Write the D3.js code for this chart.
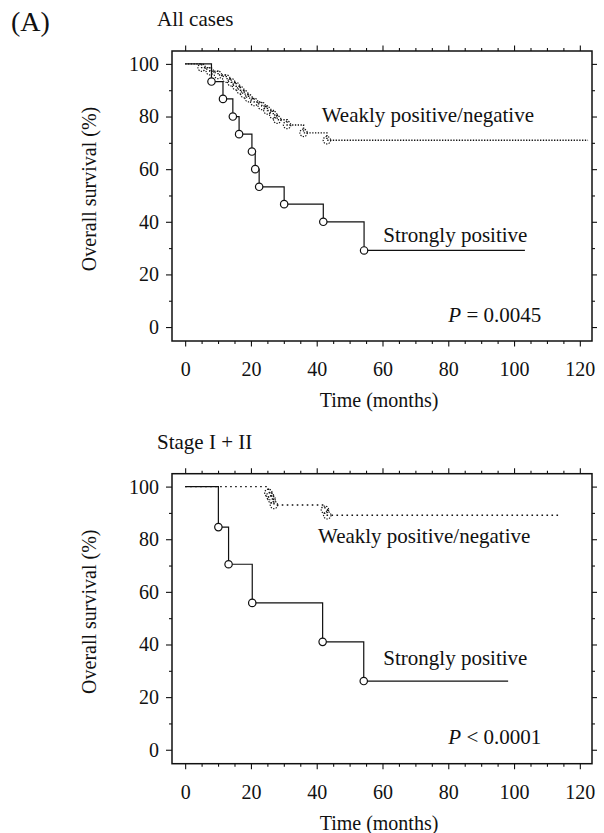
<!DOCTYPE html>
<html>
<head>
<meta charset="utf-8">
<script src="https://cdn.jsdelivr.net/npm/d3@7"></script>
<style>
  body { margin: 0; background: #fff; }
  text { font-family: "Liberation Serif", "Times New Roman", serif; fill: #111; }
</style>
</head>
<body>
<svg id="chart" width="604" height="833"></svg>
<script>
// tick values
const xMajor = [0, 20, 40, 60, 80, 100, 120]
const yMajor = [0, 20, 40, 60, 80, 100]

// All cases - strongly positive (months, % surviving)
const allStrongTime = [8, 11.5, 14.5, 16.4, 20.3, 21.3, 22.5, 30.1, 42, 54.4]
const allStrongSurv = [93.3, 86.7, 80, 73.3, 66.7, 60, 53.3, 46.7, 40, 29.1]
const allStrongEnd = 103.3
// All cases - weakly positive/negative
const allWeakTime = [5, 7.5, 10, 12.5, 14, 15.5, 16.8, 18, 19.3, 21, 23.3, 25, 26.8, 28, 31, 36, 43.1]
const allWeakSurv = [98.6, 97.2, 95.8, 94.4, 93, 91.5, 90, 88.5, 87, 85.5, 84, 82.3, 80.6, 78.8, 76.8, 73.8, 71]
const allWeakEnd = 122.5

// Stage I + II - strongly positive
const stageStrongTime = [10.1, 13.2, 20.4, 41.8, 54.3]
const stageStrongSurv = [84.6, 70.5, 55.8, 41, 26.1]
const stageStrongEnd = 98.2
// Stage I + II - weakly positive/negative
const stageWeakTime = [25.3, 25.8, 26.3, 27, 42.5, 43.2]
const stageWeakSurv = [97.6, 96.4, 95.2, 93, 91.2, 89.1]
const stageWeakEnd = 114.3

const panels = [
  {title: 'All cases', dy: 0, op: '=', p: '0.0045',
   strong: {t: allStrongTime, s: allStrongSurv, end: allStrongEnd},
   weak: {t: allWeakTime, s: allWeakSurv, end: allWeakEnd, dash: '1.3,1.5'},
   weakLabel: [321.7, 121.7], strongLabel: [383.3, 241.7]},
  {title: 'Stage I + II', dy: 422.7, op: '<', p: '0.0001',
   strong: {t: stageStrongTime, s: stageStrongSurv, end: stageStrongEnd},
   weak: {t: stageWeakTime, s: stageWeakSurv, end: stageWeakEnd, dash: '1.6,3.4'},
   weakLabel: [318, 543.3 - 422.7], strongLabel: [383.3, 665 - 422.7]}
]

const svg = d3.select('#chart')

svg.append('text').attr('x', 11).attr('y', 31).style('font-size', '28px').text('(A)')

const x = d3.scaleLinear().domain([-4, 123.7]).range([172, 592])
const y = d3.scaleLinear().domain([-5.3, 104.9]).range([341, 51])

const stepLine = d3.line().x(d => x(d[0])).y(d => y(d[1])).curve(d3.curveStepAfter)

const styleAxis = (g, fs) => {
  g.select('.domain').remove()
  g.selectAll('line').attr('stroke', '#111').attr('stroke-width', 1.1)
  g.selectAll('text').style('font-size', fs).attr('fill', '#111')
}

panels.forEach(p => {
  const g = svg.append('g').attr('transform', `translate(0,${p.dy})`)

  g.append('text').attr('x', 157).attr('y', 26).style('font-size', '21px').text(p.title)

  // minor + major ticks, all four sides
  const xMinor = d3.range(0, 121, 5).filter(v => v % 20 !== 0)
  const yMinor = d3.range(0, 101, 10).filter(v => v % 20 !== 0)
  const [y0, y1] = y.range()
  const [x0, x1] = x.range()

  g.append('g').attr('transform', `translate(0,${y0})`)
    .call(d3.axisBottom(x).tickValues(xMinor).tickSize(3).tickFormat(''))
    .call(a => styleAxis(a, '20px'))
  g.append('g').attr('transform', `translate(0,${y0})`)
    .call(d3.axisBottom(x).tickValues(xMajor).tickSize(5.5).tickPadding(15.5).tickFormat(d3.format('d')))
    .call(a => styleAxis(a, '20px'))
  g.append('g').attr('transform', `translate(0,${y1})`)
    .call(d3.axisTop(x).tickValues(xMinor).tickSize(3).tickFormat(''))
    .call(a => styleAxis(a, '20px'))
  g.append('g').attr('transform', `translate(0,${y1})`)
    .call(d3.axisTop(x).tickValues(xMajor).tickSize(5.5).tickFormat(''))
    .call(a => styleAxis(a, '20px'))

  g.append('g').attr('transform', `translate(${x0},0)`)
    .call(d3.axisLeft(y).tickValues(yMinor).tickSize(3).tickFormat(''))
    .call(a => styleAxis(a, '20px'))
  g.append('g').attr('transform', `translate(${x0},0)`)
    .call(d3.axisLeft(y).tickValues(yMajor).tickSize(6).tickPadding(7).tickFormat(d3.format('d')))
    .call(a => styleAxis(a, '20px'))
  g.append('g').attr('transform', `translate(${x1},0)`)
    .call(d3.axisRight(y).tickValues(yMinor).tickSize(3).tickFormat(''))
    .call(a => styleAxis(a, '20px'))
  g.append('g').attr('transform', `translate(${x1},0)`)
    .call(d3.axisRight(y).tickValues(yMajor).tickSize(5).tickFormat(''))
    .call(a => styleAxis(a, '20px'))

  // frame
  g.append('rect').attr('x', x0).attr('y', y1).attr('width', x1 - x0).attr('height', y0 - y1)
    .attr('fill', 'none').attr('stroke', '#111').attr('stroke-width', 1.5)

  // axis titles
  g.append('text').attr('x', (x0 + x1) / 2 - 3).attr('y', 407).attr('text-anchor', 'middle')
    .style('font-size', '20px').text('Time (months)')
  g.append('text').attr('transform', `translate(96,${(y0 + y1) / 2 - 7}) rotate(-90)`)
    .attr('text-anchor', 'middle').style('font-size', '20px').text('Overall survival (%)')

  // curves
  const drawCurve = (c, dash) => {
    const pts = [[0, 100]].concat(c.t.map((t, i) => [t, c.s[i]]))
    pts.push([c.end, c.s[c.s.length - 1]])
    g.append('path').datum(pts).attr('d', stepLine)
      .attr('fill', 'none').attr('stroke', '#111').attr('stroke-width', dash ? 1.4 : 1.2)
      .attr('stroke-dasharray', dash || null)
    g.selectAll(null).data(c.t.map((t, i) => [t, c.s[i]])).enter().append('circle')
      .attr('cx', d => x(d[0])).attr('cy', d => y(d[1])).attr('r', 3.7)
      .attr('fill', dash ? 'none' : '#fff').attr('stroke', '#111')
      .attr('stroke-width', 1.2)
      .attr('stroke-dasharray', dash ? '1.3,1.3' : null)
  }
  drawCurve(p.weak, p.weak.dash)
  drawCurve(p.strong, null)

  // labels
  g.append('text').attr('x', p.weakLabel[0]).attr('y', p.weakLabel[1]).style('font-size', '21px')
    .text('Weakly positive/negative')
  g.append('text').attr('x', p.strongLabel[0]).attr('y', p.strongLabel[1]).style('font-size', '21px')
    .text('Strongly positive')
  const pt = g.append('text').attr('x', 448.3).attr('y', 321.7).style('font-size', '21px')
  pt.append('tspan').style('font-style', 'italic').text('P')
  pt.append('tspan').text(` ${p.op} ${p.p}`)
})
</script>
</body>
</html>
